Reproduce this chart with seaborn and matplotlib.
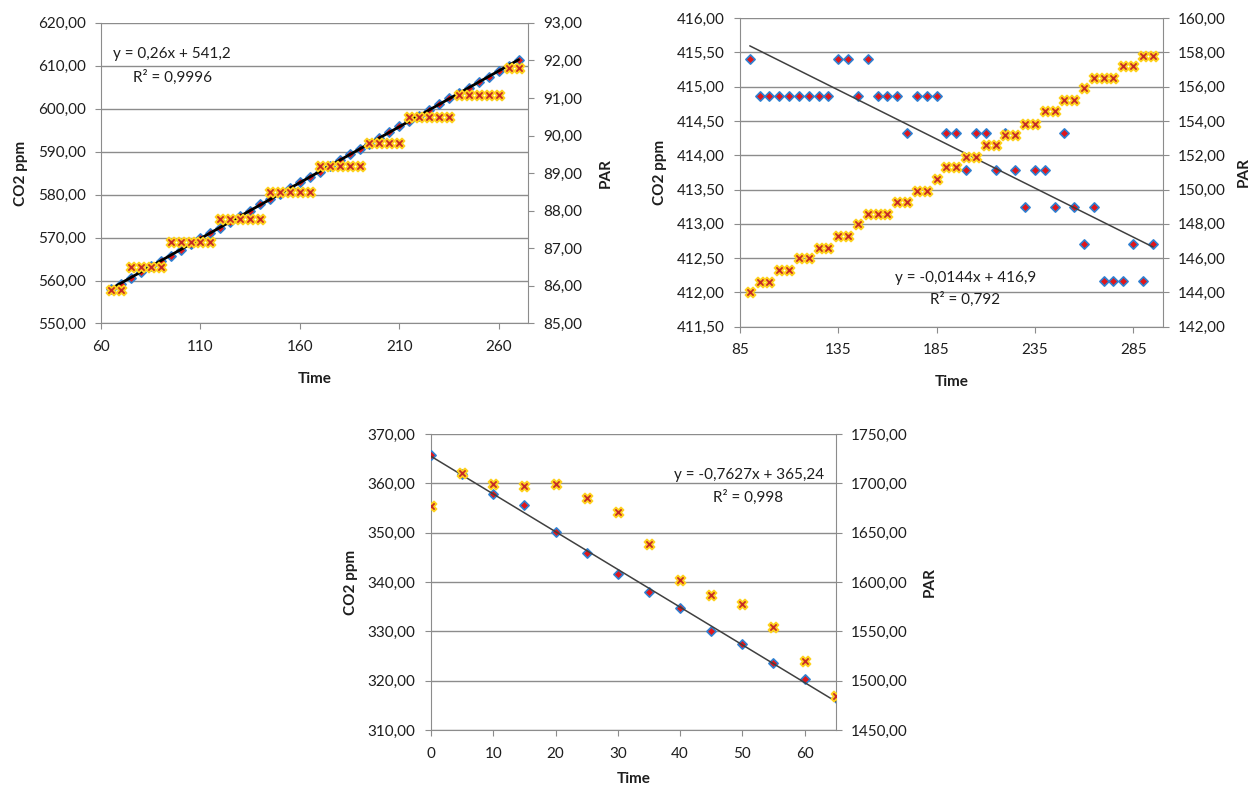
import matplotlib
matplotlib.use('Agg')
import matplotlib.pyplot as plt
from matplotlib.ticker import FuncFormatter
import seaborn as sns

# ---- panel A (top left) ----
time_a = [65, 70, 75, 80, 85, 90, 95, 100, 105, 110, 115, 120, 125, 130,
          135, 140, 145, 150, 155, 160, 165, 170, 175, 180, 185, 190, 195, 200,
          205, 210, 215, 220, 225, 230, 235, 240, 245, 250, 255, 260, 265, 270]
co2_a = [558.0, 559.3, 560.6, 562.0, 563.4, 564.6, 565.8, 567.1, 568.5, 569.9,
         571.1, 572.3, 573.6, 575.0, 576.3, 577.7, 579.0, 580.2, 581.6, 582.9,
         584.1, 585.3, 586.7, 588.0, 589.4, 590.6, 591.8, 593.2, 594.5, 595.9,
         597.1, 598.3, 599.7, 601.0, 602.4, 603.6, 604.8, 606.3, 607.5, 608.7,
         610.0, 611.4]
par_a = [85.89, 85.89, 86.51, 86.51, 86.51, 86.51, 87.17, 87.17, 87.17, 87.17,
         87.17, 87.79, 87.79, 87.79, 87.79, 87.79, 88.49, 88.49, 88.49, 88.49,
         88.49, 89.19, 89.19, 89.19, 89.19, 89.19, 89.79, 89.79, 89.79, 89.79,
         90.50, 90.50, 90.50, 90.50, 90.50, 91.09, 91.09, 91.09, 91.09, 91.09,
         91.81, 91.81]
xticks_a = [60, 110, 160, 210, 260]
yticks_a = [550, 560, 570, 580, 590, 600, 610, 620]
pticks_a = [85, 86, 87, 88, 89, 90, 91, 92, 93]

# ---- panel B (top right) ----
time_b = [90, 95, 100, 105, 110, 115, 120, 125, 130, 135, 140, 145, 150, 155,
          160, 165, 170, 175, 180, 185, 190, 195, 200, 205, 210, 215, 220, 225,
          230, 235, 240, 245, 250, 255, 260, 265, 270, 275, 280, 285, 290, 295]
co2_b = [415.40, 414.86, 414.86, 414.86, 414.86, 414.86, 414.86, 414.86, 414.86,
         415.40, 415.40, 414.86, 415.40, 414.86, 414.86, 414.86, 414.32, 414.86,
         414.86, 414.86, 414.32, 414.32, 413.78, 414.32, 414.32, 413.78, 414.32,
         413.78, 413.25, 413.78, 413.78, 413.25, 414.32, 413.25, 412.71, 413.25,
         412.17, 412.17, 412.17, 412.71, 412.17, 412.71]
par_b = [144.0, 144.6, 144.6, 145.3, 145.3, 146.0, 146.0, 146.6, 146.6, 147.3,
         147.3, 148.0, 148.6, 148.6, 148.6, 149.3, 149.3, 149.9, 149.9, 150.6,
         151.3, 151.3, 151.9, 151.9, 152.6, 152.6, 153.2, 153.2, 153.8, 153.8,
         154.6, 154.6, 155.2, 155.2, 155.9, 156.5, 156.5, 156.5, 157.2, 157.2,
         157.8, 157.8]
xticks_b = [85, 135, 185, 235, 285]
yticks_b = [411.5, 412.0, 412.5, 413.0, 413.5, 414.0, 414.5, 415.0, 415.5, 416.0]
pticks_b = [142, 144, 146, 148, 150, 152, 154, 156, 158, 160]

# ---- panel C (bottom) ----
time_c = [0, 5, 10, 15, 20, 25, 30, 35, 40, 45, 50, 55, 60, 65]
co2_c = [365.7, 361.8, 357.8, 355.6, 350.2, 345.8, 341.6, 338.0, 334.7, 330.1,
         327.4, 323.6, 320.4, 316.4]
par_c = [1676.9, 1710.1, 1699.2, 1697.5, 1699.2, 1685.3, 1670.5, 1639.0, 1602.4,
         1587.1, 1578.0, 1554.2, 1519.7, 1484.8]
xticks_c = [0, 10, 20, 30, 40, 50, 60]
yticks_c = [310, 320, 330, 340, 350, 360, 370]
pticks_c = [1450, 1500, 1550, 1600, 1650, 1700, 1750]

sns.set_style("white")
plt.rcParams['font.family'] = ['Lato', 'DejaVu Sans']
plt.rcParams['font.size'] = 11

GRID = '#8c8c8c'
TXT = '#1e1e1e'
BLUE = '#2f80d1'
RED = '#e0161b'
XRED = '#c42a26'
YEL = '#ffd21f'

fig = plt.figure(figsize=(12.55, 7.87), dpi=100)
comma = FuncFormatter(lambda v, pos: f"{v:.2f}".replace('.', ','))


def panel(rect, t, co2, par, xticks, yticks, pticks, xmax, eq, r2, eq_xy, r2_xy,
          line_kws, ylpad, plpad, xlpad):
    ax = fig.add_axes(rect)
    sns.regplot(x=t, y=co2, scatter=False, ci=None, ax=ax, line_kws=line_kws)
    sns.scatterplot(x=t, y=co2, ax=ax, marker='D', s=22, color=RED,
                    edgecolor=BLUE, linewidth=1.2, zorder=3)
    ax.set_xlim(xticks[0], xmax)
    ax.set_ylim(yticks[0], yticks[-1])
    ax.set_xticks(xticks)
    ax.set_yticks(yticks)
    ax.yaxis.set_major_formatter(comma)
    ax.yaxis.grid(True, color=GRID, lw=1)
    ax.xaxis.grid(False)
    for s in ['left', 'bottom']:
        ax.spines[s].set_color(GRID)
    for s in ['top', 'right']:
        ax.spines[s].set_visible(False)
    ax.tick_params(axis='y', left=True, direction='out', length=4, color=GRID,
                   pad=7, labelcolor=TXT, labelsize=11)
    ax.tick_params(axis='x', bottom=True, direction='out', length=4, color=GRID,
                   pad=8, labelcolor=TXT, labelsize=11)
    ax.set_ylabel('CO2 ppm', fontweight='bold', fontsize=11, color=TXT, labelpad=ylpad)
    ax.set_xlabel('Time', fontweight='bold', fontsize=11, color=TXT, labelpad=xlpad)
    ax.text(*eq_xy, eq, transform=ax.transAxes, ha='center', va='center',
            fontsize=11, color=TXT)
    ax.text(*r2_xy, r2, transform=ax.transAxes, ha='center', va='center',
            fontsize=11, color=TXT)

    ax2 = ax.twinx()
    sns.scatterplot(x=t, y=par, ax=ax2, marker='X', s=52, color=XRED,
                    edgecolor=YEL, linewidth=1.3, zorder=3)
    ax2.set_ylim(pticks[0], pticks[-1])
    ax2.set_yticks(pticks)
    ax2.yaxis.set_major_formatter(comma)
    ax2.grid(False)
    for s in ['left', 'bottom', 'top']:
        ax2.spines[s].set_visible(False)
    ax2.spines['right'].set_color(GRID)
    ax2.tick_params(axis='y', right=True, direction='out', length=4, color=GRID,
                    pad=7, labelcolor=TXT, labelsize=11)
    ax2.set_ylabel('PAR', fontweight='bold', fontsize=11, color=TXT, labelpad=plpad)
    return ax, ax2


panel([0.0805, 0.589, 0.340, 0.382], time_a, co2_a, par_a, xticks_a, yticks_a,
      pticks_a, 274.6, 'y = 0,26x + 541,2', 'R² = 0,9996', (0.166, 0.896),
      (0.168, 0.82), dict(color='black', lw=2, zorder=4), 7, 12, 13)

panel([0.5896, 0.585, 0.3368, 0.3919], time_b, co2_b, par_b, xticks_b, yticks_b,
      pticks_b, 300, 'y = -0,0144x + 416,9', 'R² = 0,792', (0.535, 0.158),
      (0.533, 0.087), dict(color='#404040', lw=1.1, zorder=4), 7, 8, 13)

panel([0.3434, 0.0724, 0.3225, 0.3761], time_c, co2_c, par_c, xticks_c, yticks_c,
      pticks_c, 65, 'y = -0,7627x + 365,24', 'R² = 0,998', (0.787, 0.861),
      (0.784, 0.787), dict(color='#404040', lw=1.1, zorder=4), 7, 11, 8)

fig.savefig('out.png', dpi=100)
